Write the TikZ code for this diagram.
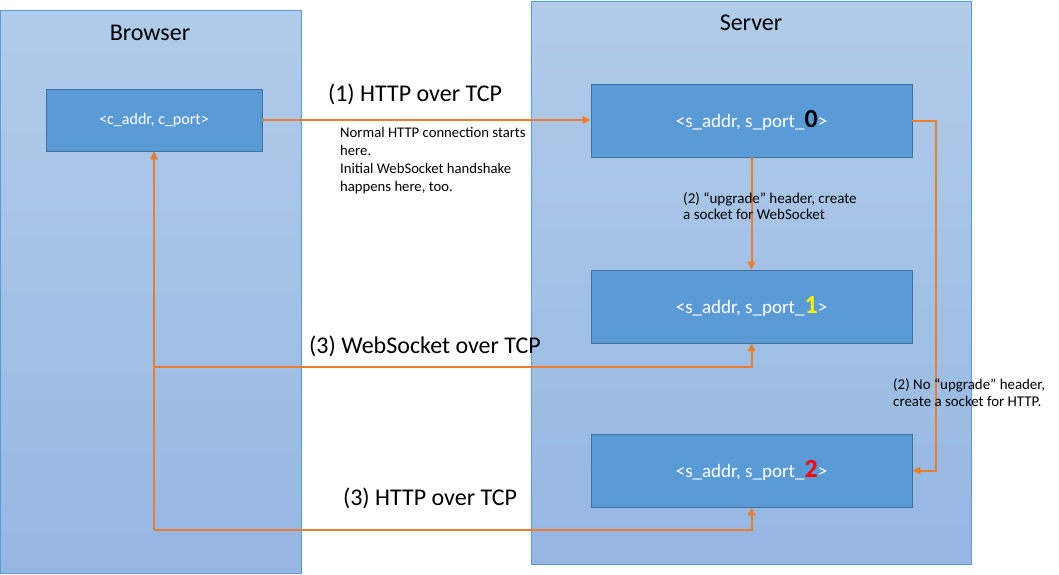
\documentclass[tikz,border=0pt]{standalone}
\usepackage{fontspec}
\setmainfont{Carlito}
\usetikzlibrary{arrows.meta}
\definecolor{panelTop}{HTML}{B1CCEA}
\definecolor{panelBot}{HTML}{95B7E2}
\definecolor{panelEdge}{HTML}{5B9BD5}
\definecolor{boxFill}{HTML}{5B9BD5}
\definecolor{boxEdge}{HTML}{41719C}
\definecolor{wireOrange}{HTML}{ED7D31}
\begin{document}
\begin{tikzpicture}[x=1pt, y=-1pt,
        panel/.style={draw=panelEdge, line width=0.8pt, top color=panelTop, bottom color=panelBot, inner sep=0pt, minimum height=563pt},
        sockbox/.style={draw=boxEdge, line width=0.8pt, fill=boxFill, text=white, inner sep=0pt},
        title/.style={font=\fontsize{24}{28}\selectfont, inner sep=0pt},
        note/.style={anchor=north west, align=left, inner sep=0pt},
        conn/.style={draw=wireOrange, line width=2pt, -{Triangle[length=8pt,width=7.5pt]}}]
        \useasboundingbox (0,0) rectangle (1059,574);
        % Browser and server panels
        \node[panel, minimum width=301pt] (browser) at (151,291.5) {};
        \node[panel, minimum width=440pt] (server) at (751,282.5) {};
        \node[title, anchor=base] (browserTitle) at (150,40) {Browser};
        \node[title, anchor=base] (serverTitle) at (751,30) {Server};
        % Client socket
        \node[sockbox, minimum width=216pt, minimum height=62pt, font=\fontsize{16}{18}\selectfont] (c) at (154,120) {<c\_addr, c\_port>};
        % Server sockets
        \foreach \n/\y/\col in {0/120.5/black, 1/306.5/yellow, 2/470.5/red} {
            \node[sockbox, minimum width=321pt, minimum height=73pt, font=\fontsize{19}{21}\selectfont] (s\n) at (751.5,\y)
                {<s\_addr, s\_port\_{\fontsize{26}{26}\selectfont\bfseries\color{\col}\n}>};
        }
        % Junctions on the browser side
        \coordinate (wsJoin) at (c.south |- 0,367);
        \coordinate (httpJoin) at (c.south |- 0,530);
        % Connections
        \draw[conn] (c.east) -- (c.east -| s0.west);
        \draw[conn] (s0.south) -- (s1.north);
        \draw[conn] (s0.east) -- ++(24,0) |- (s2.east);
        \draw[conn] (httpJoin) -- (c.south);
        \draw[conn] (wsJoin) -| (s1.south);
        \draw[conn] (httpJoin) -| (s2.south);
        % Labels
        \node[title, anchor=base] (lblOne) at (415,101.5) {(1) HTTP over TCP};
        \node[title, anchor=base] (lblWs) at (425,353) {(3) WebSocket over TCP};
        \node[title, anchor=base] (lblHttp) at (430,505) {(3) HTTP over TCP};
        \node[note, font=\fontsize{14.7}{17.8}\selectfont] (noteOne) at (340,127.4)
            {Normal HTTP connection starts\\here.\\Initial WebSocket handshake\\happens here, too.};
        \node[note, font=\fontsize{15}{16.5}\selectfont] (noteUp) at (683,192)
            {(2) “upgrade” header, create\\a socket for WebSocket};
        \node[note, font=\fontsize{14.9}{16.7}\selectfont] (noteNo) at (893,378.3)
            {(2) No “upgrade” header,\\create a socket for HTTP.};
    \end{tikzpicture}
\end{document}
